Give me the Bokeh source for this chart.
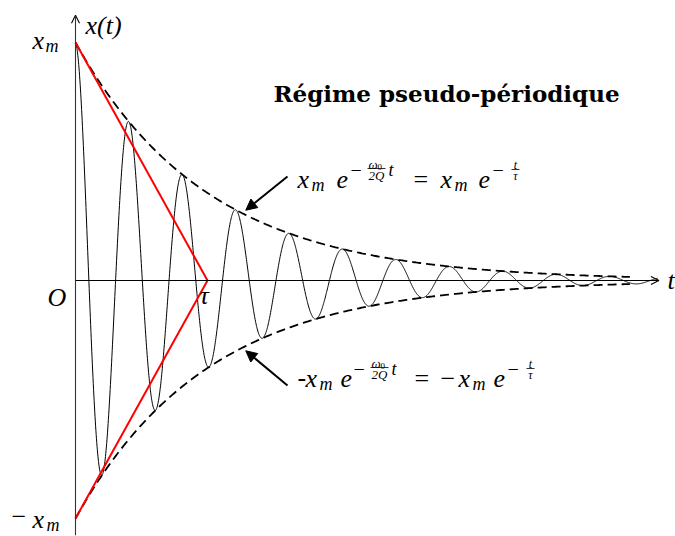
import numpy as np
from bokeh.plotting import figure
from bokeh.models import Range1d, Label, Arrow, NormalHead, OpenHead
from bokeh.embed import file_html
from bokeh.resources import INLINE

# --- model parameters (reduced units: amplitude xm = 1, time in units of tau) ---
XM = 1.0            # initial amplitude x_m
TAU = 1.0           # decay time tau
T_PSEUDO = 0.405    # pseudo-period
T_END = 4.41        # end of the drawn oscillation
ENV_END = 4.20      # end of the dashed envelopes
T_AXIS_END = 4.42   # tip of the time axis
Y_AXIS_TOP = 1.115  # tip of the x(t) axis
Y_AXIS_BOTTOM = -1.07

# axis labels
LBL_XT = "x(t)"
LBL_T = "t"
LBL_O = "O"
LBL_TAU = "τ"
TITLE = "Régime pseudo-périodique"

# canvas geometry: origin of the axes and scale in pixels per unit
W, H = 675, 536
OX, OY = 75, 280
SX, SY = 132.0, 238.0

def dx(px):
    return (px - OX) / SX

def dy(py):
    return (OY - py) / SY

p = figure(width=W, height=H,
           x_range=Range1d(dx(0), dx(W)), y_range=Range1d(dy(H), dy(0)),
           x_axis_type=None, y_axis_type=None,
           toolbar_location=None, output_backend="svg",
           min_border=0, min_border_left=0, min_border_right=0,
           min_border_top=0, min_border_bottom=0)
p.grid.visible = False
p.outline_line_color = None
p.background_fill_color = "white"
p.border_fill_color = "white"

# --- axes with open arrow heads ---
p.add_layout(Arrow(x_start=0, y_start=0, x_end=T_AXIS_END, y_end=0,
                   line_color="black", line_width=1.1,
                   end=OpenHead(size=8, line_width=1.1, line_color="black")))
p.add_layout(Arrow(x_start=0, y_start=Y_AXIS_BOTTOM, x_end=0, y_end=Y_AXIS_TOP,
                   line_color="#333333", line_width=1.1,
                   end=OpenHead(size=8, line_width=1.1, line_color="black")))

# --- damped oscillation and its envelopes ---
t = np.linspace(0, T_END, 2000)
x = XM * np.exp(-t / TAU) * np.cos(2 * np.pi * t / T_PSEUDO)
p.line(t, x, line_color="black", line_width=1.0)

te = np.linspace(0, ENV_END, 400)
env = XM * np.exp(-te / TAU)
p.line(te, env, line_color="black", line_width=1.8, line_dash="9 5")
p.line(te, -env, line_color="black", line_width=1.8, line_dash="9 5")

# --- tangents at the origin, crossing the time axis at tau ---
p.line([0, TAU], [XM, 0], line_color="red", line_width=2)
p.line([0, TAU], [-XM, 0], line_color="red", line_width=2)

# --- arrows pointing at the envelopes ---
t_hit = 1.29
p.add_layout(Arrow(x_start=dx(287), y_start=dy(176),
                   x_end=t_hit, y_end=XM * np.exp(-t_hit / TAU) + 0.02,
                   line_color="black", line_width=2,
                   end=NormalHead(size=11, fill_color="black", line_color="black")))
p.add_layout(Arrow(x_start=dx(287), y_start=dy(385),
                   x_end=t_hit, y_end=-XM * np.exp(-t_hit / TAU) - 0.02,
                   line_color="black", line_width=2,
                   end=NormalHead(size=11, fill_color="black", line_color="black")))

MATH = "Liberation Serif"
BIG = "26px"
SUB = "18px"
EXP = "20px"
FR = "13px"

def lab(px, py, text, size=BIG, style="italic", align="left", font=MATH):
    p.add_layout(Label(x=dx(px), y=dy(py), text=text, text_font=font,
                       text_font_size=size, text_font_style=style,
                       text_align=align, text_baseline="middle",
                       text_color="black"))

def bar(x0, x1, py):
    p.line([dx(x0), dx(x1)], [dy(py), dy(py)], line_color="black", line_width=0.8)

# axis labels
lab(85, 25, LBL_XT)
lab(32, 40, "x")
lab(45, 45, "m", size=SUB)
lab(11, 516, "−", style="normal")
lab(32, 519, "x")
lab(46, 524, "m", size=SUB)
lab(47, 297, LBL_O)
lab(199, 295, LBL_TAU)
lab(667, 280, LBL_T)

# title
p.add_layout(Label(x=dx(446), y=dy(93), text=TITLE,
                   text_font="DejaVu Serif",
                   text_font_size="23px", text_font_style="bold",
                   text_align="center", text_baseline="middle",
                   text_color="black"))

# envelope formulas: x_m e^{-w0 t / 2Q} = x_m e^{-t/tau}
def exponent_w0(xl, yc):
    # minus sign, fraction w0 / 2Q and the trailing t
    lab(xl, yc - 10, "−", size=EXP, style="normal")
    lab(xl + 18, yc - 15, "ω", size=FR)
    lab(xl + 27, yc - 13, "0", size="9px", style="normal")
    bar(xl + 17, xl + 35, yc - 11)
    lab(xl + 26, yc - 4, "2Q", size=FR, align="center")
    lab(xl + 38, yc - 10, "t", size=SUB)

def exponent_tau(xl, yc):
    lab(xl, yc - 10, "−", size=EXP, style="normal")
    lab(xl + 23, yc - 15, "t", size="12px", align="center")
    bar(xl + 19, xl + 27, yc - 10)
    lab(xl + 23, yc - 4, "τ", size="12px", align="center")

yc1 = 179
lab(297, yc1, "x")
lab(311, yc1 + 5, "m", size=SUB)
lab(336, yc1, "e")
exponent_w0(350, yc1)
lab(413, yc1, "=", style="normal")
lab(440, yc1, "x")
lab(454, yc1 + 5, "m", size=SUB)
lab(478, yc1, "e")
exponent_tau(492, yc1)

yc2 = 378
lab(297, yc2 - 1, "-", style="normal")
lab(305, yc2, "x")
lab(319, yc2 + 5, "m", size=SUB)
lab(340, yc2, "e")
exponent_w0(353, yc2)
lab(414, yc2, "=", style="normal")
lab(440, yc2, "−", style="normal")
lab(458, yc2, "x")
lab(472, yc2 + 5, "m", size=SUB)
lab(493, yc2, "e")
exponent_tau(507, yc2)

open("out.html", "w").write(file_html(p, INLINE))
